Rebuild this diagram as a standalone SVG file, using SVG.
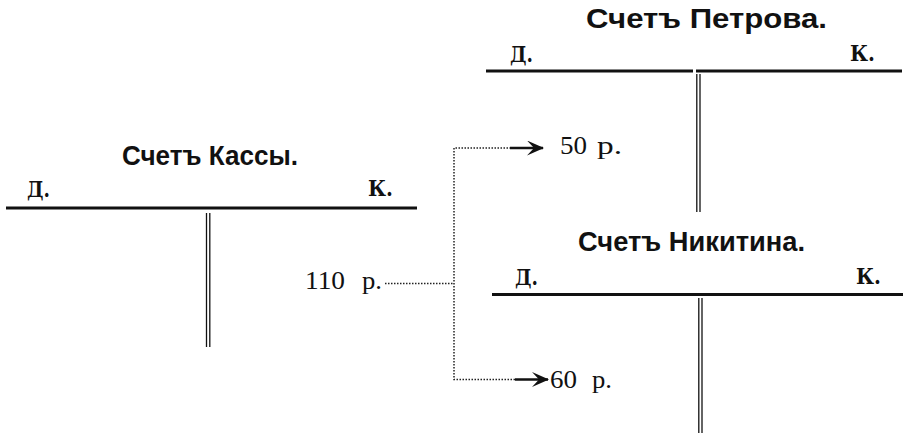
<svg xmlns="http://www.w3.org/2000/svg" width="903" height="433" viewBox="0 0 903 433">
<style>
.title{font-family:"Liberation Sans","DejaVu Sans",sans-serif;font-weight:bold;font-size:28px;fill:#111}
.dk{font-family:"DejaVu Serif","Liberation Serif",serif;font-weight:bold;font-size:22px;fill:#111}
.num{font-family:"Liberation Serif","DejaVu Serif",serif;font-size:25px;fill:#111}
.rule{stroke:#111;stroke-width:3;fill:none}
.dbl{stroke:#111;stroke-width:1.3;fill:none}
.dot{stroke:#222;stroke-width:1.5;stroke-dasharray:1.5 1.5;fill:none}
.arr{stroke:#111;stroke-width:2.4;fill:none}
</style>
<defs>
<marker id="ah" viewBox="0 0 17 15" refX="16" refY="7.5" markerWidth="17" markerHeight="15" markerUnits="userSpaceOnUse" orient="auto">
<path d="M0,0 L17,7.5 L0,15 L7,7.5 Z" fill="#111"/>
</marker>
</defs>
<g id="kassa">
<text class="title" x="122" y="165" textLength="176" lengthAdjust="spacingAndGlyphs">Счетъ Кассы.</text>
<text class="dk" x="27" y="197" textLength="23" lengthAdjust="spacingAndGlyphs">Д.</text>
<text class="dk" x="368" y="196" textLength="25" lengthAdjust="spacingAndGlyphs">К.</text>
<line class="rule" x1="6" y1="208" x2="417" y2="208"/>
<line class="dbl" x1="206.5" y1="213" x2="206.5" y2="347"/>
<line class="dbl" x1="209.8" y1="213" x2="209.8" y2="347"/>
<text class="num" x="305" y="289" textLength="40" lengthAdjust="spacingAndGlyphs">110</text>
<text class="num" x="362" y="289" textLength="20" lengthAdjust="spacingAndGlyphs">р.</text>
</g>
<g id="petrov">
<text class="title" x="586" y="28" textLength="241" lengthAdjust="spacingAndGlyphs">Счетъ Петрова.</text>
<text class="dk" x="510" y="62" textLength="23" lengthAdjust="spacingAndGlyphs">Д.</text>
<text class="dk" x="850" y="61" textLength="25" lengthAdjust="spacingAndGlyphs">К.</text>
<line class="rule" x1="486" y1="71" x2="693" y2="71"/>
<line class="rule" x1="696" y1="71" x2="902" y2="71"/>
<line class="dbl" x1="696.8" y1="74" x2="696.8" y2="212"/>
<line class="dbl" x1="700" y1="74" x2="700" y2="212"/>
<text class="num" x="560" y="154" textLength="27" lengthAdjust="spacingAndGlyphs">50</text>
<text class="num" x="597" y="154" textLength="25" lengthAdjust="spacingAndGlyphs">р.</text>
</g>
<g id="nikitin">
<text class="title" x="578" y="251" textLength="227" lengthAdjust="spacingAndGlyphs">Счетъ Никитина.</text>
<text class="dk" x="515" y="285" textLength="23" lengthAdjust="spacingAndGlyphs">Д.</text>
<text class="dk" x="856" y="284" textLength="25" lengthAdjust="spacingAndGlyphs">К.</text>
<line class="rule" x1="492" y1="294.5" x2="903" y2="294.5"/>
<line class="dbl" x1="698.8" y1="298" x2="698.8" y2="433"/>
<line class="dbl" x1="702" y1="298" x2="702" y2="433"/>
<text class="num" x="550" y="388" textLength="27" lengthAdjust="spacingAndGlyphs">60</text>
<text class="num" x="592" y="388" textLength="20" lengthAdjust="spacingAndGlyphs">р.</text>
</g>
<g id="connectors">
<line class="dot" x1="385" y1="283.5" x2="453" y2="283.5"/>
<path class="dot" d="M511,148 H454 V379.5 H516"/>
<line class="arr" x1="510" y1="148" x2="543" y2="148" marker-end="url(#ah)"/>
<line class="arr" x1="515" y1="379.5" x2="548" y2="379.5" marker-end="url(#ah)"/>
</g>
</svg>
